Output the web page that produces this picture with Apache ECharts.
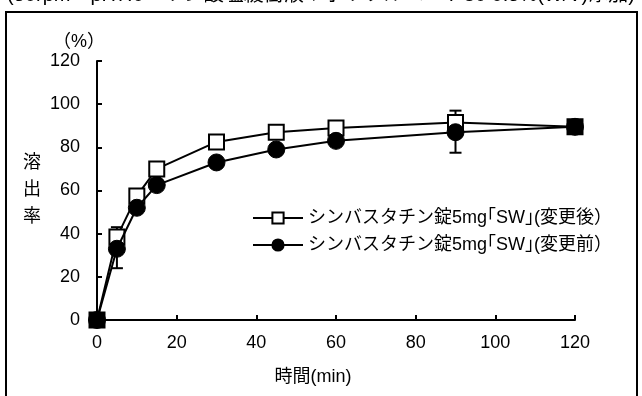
<!DOCTYPE html>
<html>
<head>
<meta charset="utf-8">
<script src="https://cdn.jsdelivr.net/npm/echarts@6/dist/echarts.min.js"></script>
<style>
  html, body { margin: 0; padding: 0; background: #fff; }
  #chart { width: 642px; height: 396px; }
</style>
</head>
<body>
<div id="chart"></div>
<script>
'use strict';

const FONT = '"Liberation Sans", "Noto Sans CJK JP", sans-serif';

// Time points (min) and dissolution (%)
const times = [0, 5, 10, 15, 30, 45, 60, 90, 120];
const afterChange = [0, 38.5, 57.5, 70, 82.5, 87, 89, 91.5, 89.5];
const beforeChange = [0, 33, 52, 62.5, 73, 79, 83, 87, 89.5];
// Error bars: [time, low, high]
const errorBars = [[5, 24, 43], [90, 77.5, 97]];

const seriesNames = ['シンバスタチン錠5mg｢SW｣(変更後）', 'シンバスタチン錠5mg｢SW｣(変更前）'];
const titleText = '(50rpm：pH7.0：リン酸塩緩衝液＋ポリソルベート80 0.5%(W/V)添加)';

const chart = echarts.init(document.getElementById('chart'));

const last = times.length - 1;
const squareData = times.map((t, i) => {
  const item = { value: [t, afterChange[i]] };
  // end points appear as solid squares
  if (i === 0 || i === last) item.itemStyle = { color: '#000' };
  return item;
});
const circleData = times.map((t, i) => [t, beforeChange[i]]);

chart.setOption({
  animation: false,
  textStyle: { fontFamily: FONT },
  grid: { left: 97, right: 67, top: 61, bottom: 76 },
  graphic: [
    {
      type: 'rect', silent: true,
      shape: { x: 6, y: 12, width: 631, height: 400 },
      style: { fill: 'none', stroke: '#000', lineWidth: 2 }
    },
    {
      type: 'text', silent: true, left: 'center', top: -15,
      style: { text: titleText, font: '20px ' + FONT, fill: '#000' }
    },
    {
      type: 'text', silent: true, x: 79, y: 42,
      style: { text: '（%）', font: '18px ' + FONT, fill: '#000', align: 'center', verticalAlign: 'middle' }
    }
  ],
  legend: {
    orient: 'vertical',
    left: 247,
    top: 204,
    itemWidth: 50,
    itemHeight: 14,
    itemGap: 9,
    textStyle: { fontSize: 18, color: '#000', fontFamily: FONT },
    data: seriesNames
  },
  xAxis: {
    type: 'value',
    min: 0, max: 120, interval: 20,
    name: '時間(min)',
    nameLocation: 'middle',
    nameGap: 48,
    nameTextStyle: { fontSize: 18, color: '#000', padding: [0, 46, 0, 0] },
    axisLine: { lineStyle: { color: '#000', width: 2 } },
    axisTick: { inside: true, length: 5, lineStyle: { color: '#000', width: 2 } },
    axisLabel: { fontSize: 18, color: '#000', margin: 14 },
    splitLine: { show: false }
  },
  yAxis: {
    type: 'value',
    min: 0, max: 120, interval: 20,
    name: '溶\n出\n率',
    nameLocation: 'middle',
    nameRotate: 0,
    nameGap: 56,
    nameTextStyle: { fontSize: 18, color: '#000', lineHeight: 27, padding: [12, 0, 0, 0] },
    axisLine: { show: true, lineStyle: { color: '#000', width: 2 } },
    axisTick: { show: true, inside: true, length: 5, lineStyle: { color: '#000', width: 2 } },
    axisLabel: { fontSize: 18, color: '#000', margin: 17 },
    splitLine: { show: false }
  },
  series: [
    {
      type: 'custom',
      silent: true,
      z: 1,
      data: errorBars,
      renderItem: (params, api) => {
        const top = api.coord([api.value(0), api.value(2)]);
        const bot = api.coord([api.value(0), api.value(1)]);
        const w = 6;
        const style = { stroke: '#000', lineWidth: 2 };
        return {
          type: 'group',
          children: [
            { type: 'line', shape: { x1: top[0], y1: top[1], x2: bot[0], y2: bot[1] }, style },
            { type: 'line', shape: { x1: top[0] - w, y1: top[1], x2: top[0] + w, y2: top[1] }, style },
            { type: 'line', shape: { x1: bot[0] - w, y1: bot[1], x2: bot[0] + w, y2: bot[1] }, style }
          ]
        };
      }
    },
    {
      name: seriesNames[0],
      type: 'line',
      z: 2,
      data: squareData,
      symbol: 'rect',
      symbolSize: 15,
      lineStyle: { color: '#000', width: 2 },
      itemStyle: { color: '#fff', borderColor: '#000', borderWidth: 2 }
    },
    {
      name: seriesNames[1],
      type: 'line',
      z: 3,
      data: circleData,
      symbol: 'circle',
      symbolSize: 17,
      lineStyle: { color: '#000', width: 2 },
      itemStyle: { color: '#000', borderColor: '#000', borderWidth: 1 }
    }
  ]
});
</script>
</body>
</html>
